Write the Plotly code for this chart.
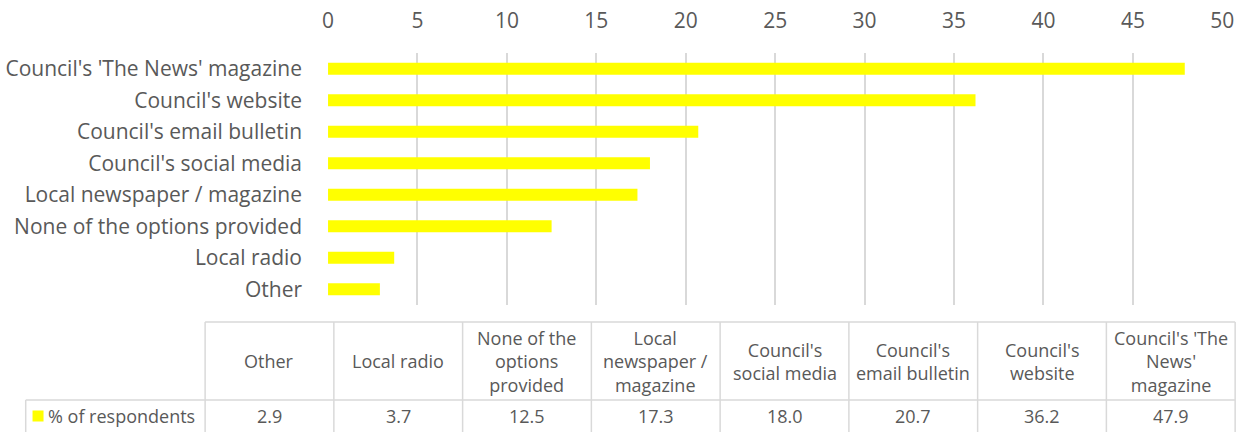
import plotly.graph_objects as go

# Survey results: where respondents get council information
categories = [
    "Other",
    "Local radio",
    "None of the options provided",
    "Local newspaper / magazine",
    "Council's social media",
    "Council's email bulletin",
    "Council's website",
    "Council's 'The News' magazine",
]
table_headers = [
    "Other",
    "Local radio",
    "None of the<br>options<br>provided",
    "Local<br>newspaper /<br>magazine",
    "Council's<br>social media",
    "Council's<br>email bulletin",
    "Council's<br>website",
    "Council's 'The<br>News'<br>magazine",
]
values = [2.9, 3.7, 12.5, 17.3, 18.0, 20.7, 36.2, 47.9]
series_name = "% of respondents"
x_ticks = list(range(0, 51, 5))

W, H = 1257, 432
TEXT = "#595959"
GRID = "#d9d9d9"
BAR = "#ffff00"
FONT = "Open Sans"
AXIS_SIZE = 21
TABLE_SIZE = 18

fig = go.Figure()

fig.add_trace(go.Bar(
    x=values, y=categories, orientation="h",
    marker=dict(color=BAR, line=dict(width=0)),
    name=series_name, showlegend=False,
    xaxis="x", yaxis="y",
))

# ---- data table below the chart (x2/y2: columns of unit width, y in px) ----
n = len(categories)
col_px = (1247 - 202) / n          # width of one data column
x2_min = -202 / col_px
x2_max = (W - 202) / col_px
label_left = (20 - 202) / col_px   # left edge of the series label cell
tbl_h = 115                        # table axis height in px units
row_split = 32                     # data row height
hdr_top = 110

shapes = []
line = dict(color=GRID, width=1.5)
shapes.append(dict(type="line", xref="x2", yref="y2", x0=0, x1=n, y0=hdr_top, y1=hdr_top, line=line))
shapes.append(dict(type="line", xref="x2", yref="y2", x0=label_left, x1=n, y0=row_split, y1=row_split, line=line))
for i in range(n + 1):
    shapes.append(dict(type="line", xref="x2", yref="y2", x0=i, x1=i, y0=0, y1=hdr_top, line=line))
shapes.append(dict(type="line", xref="x2", yref="y2", x0=label_left, x1=label_left, y0=0, y1=row_split, line=line))

annotations = []
for i, (hdr, v) in enumerate(zip(table_headers, values)):
    annotations.append(dict(xref="x2", yref="y2", x=i + 0.5, y=(row_split + hdr_top) / 2,
                            text=hdr, showarrow=False, align="center",
                            font=dict(family=FONT, size=TABLE_SIZE, color=TEXT)))
    annotations.append(dict(xref="x2", yref="y2", x=i + 0.5, y=row_split / 2,
                            text=f"{v:.1f}", showarrow=False,
                            font=dict(family=FONT, size=TABLE_SIZE, color=TEXT)))
annotations.append(dict(xref="x2", yref="y2", x=(41 - 202) / col_px, y=row_split / 2,
                        xanchor="left", text=series_name, showarrow=False,
                        font=dict(family=FONT, size=TABLE_SIZE, color=TEXT)))

# legend key in the table
fig.add_trace(go.Scatter(
    x=[(32.5 - 202) / col_px], y=[row_split / 2], mode="markers",
    marker=dict(symbol="square", size=11, color=BAR),
    xaxis="x2", yaxis="y2", showlegend=False, hoverinfo="skip",
))

fig.update_layout(
    width=W, height=H,
    margin=dict(l=0, r=0, t=0, b=0),
    paper_bgcolor="white", plot_bgcolor="white",
    bargap=0.62,
    font=dict(family=FONT, color=TEXT),
    xaxis=dict(
        domain=[326.7 / W, 1234 / W], range=[0, 50], side="top",
        tickvals=x_ticks, showgrid=True, gridcolor=GRID, gridwidth=1.5,
        zeroline=False, showline=False, ticks="",
        ticklabelstandoff=20,
        tickfont=dict(family=FONT, size=AXIS_SIZE, color=TEXT),
        anchor="y", fixedrange=True,
    ),
    yaxis=dict(
        domain=[1 - 305 / H, 1 - 53 / H], categoryorder="array", categoryarray=categories,
        showgrid=False, zeroline=False, showline=False, ticks="",
        ticklabelstandoff=25,
        tickfont=dict(family=FONT, size=AXIS_SIZE, color=TEXT),
        anchor="x", fixedrange=True,
    ),
    xaxis2=dict(domain=[0, 1], range=[x2_min, x2_max], visible=False, anchor="y2", fixedrange=True),
    yaxis2=dict(domain=[0, tbl_h / H], range=[0, tbl_h], visible=False, anchor="x2", fixedrange=True),
    shapes=shapes,
    annotations=annotations,
)

fig.write_html("out.html", config={"displayModeBar": False})
